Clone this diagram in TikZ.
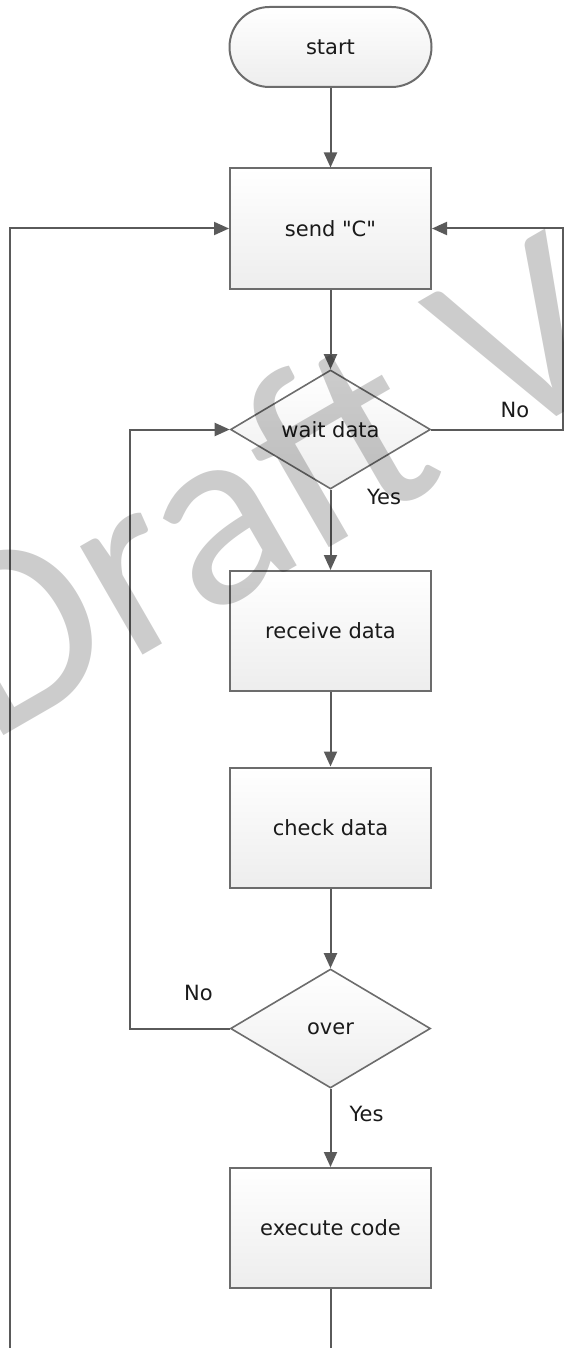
\documentclass[tikz,border=0pt]{standalone}
\usepackage{fontspec}
\newfontfamily\chartfont{DejaVu Sans}
\newfontfamily\markfont{Carlito}
\usepackage{xcolor}
\usepackage{tikz}
\usetikzlibrary{shapes.geometric,arrows.meta,positioning}
\definecolor{linegray}{RGB}{90,90,90}
\definecolor{bordergray}{RGB}{108,108,108}
\definecolor{textgray}{RGB}{26,26,26}

\begin{document}
\begin{tikzpicture}[x=1pt, y=-1pt,
    font=\chartfont\fontsize{21}{25}\selectfont,
    terminal/.style={rectangle, rounded corners=40pt, draw=bordergray, line width=2pt, top color=white, bottom color=black!7, text=textgray, minimum width=202pt, minimum height=80pt},
    process/.style={rectangle, draw=bordergray, line width=2pt, top color=white, bottom color=black!7, text=textgray, minimum width=201pt, minimum height=120pt},
    decision/.style={diamond, aspect=1.68, inner sep=0pt, draw=bordergray, line width=1.6pt, top color=white, bottom color=black!7, text=textgray, minimum width=200pt, minimum height=119pt},
    lbl/.style={text=textgray},
    arrow/.style={draw=linegray, line width=2pt, -{Triangle[length=15pt, width=13pt]}},
    wire/.style={draw=linegray, line width=2pt},
    watermark/.style={text=black, text opacity=0.2, inner sep=0pt, font=\markfont\fontsize{262}{262}\selectfont}
]
\useasboundingbox (0,0) rectangle (564,1348);

\node[terminal] (start) at (330.5,47) {start};
\node[process] (send) at (330.5,228.5) {send "C"};
\node[decision] (wait) at (330.5,429.5) {wait data};
\node[process] (receive) at (330.5,631) {receive data};
\node[process] (check) at (330.5,827.5) {check data};
\node[decision] (over) at (330.5,1028.5) {over};
\node[process] (exec) at (330.5,1228) {execute code};

% loop ends
\coordinate (leftfoot) at (10,1348);
\coordinate (loopleft) at (130,1028.5);
\coordinate (loopright) at (562.5,429.5);
\coordinate (execfoot) at (330.5,1348);

\draw[arrow] (start) -- (send);
\draw[arrow] (send) -- (wait);
\draw[arrow] (wait) -- (receive);
\draw[arrow] (receive) -- (check);
\draw[arrow] (check) -- (over);
\draw[arrow] (over) -- (exec);
\draw[wire] (exec) -- (execfoot);
\draw[arrow] (leftfoot) |- (send.west);
\draw[arrow] (over.west) -- (loopleft) |- (wait.west);
\draw[arrow] (wait.east) -- (loopright) |- (send.east);

\node[lbl] (waitno) at (515,410) {No};
\node[lbl] (waityes) at (384,497) {Yes};
\node[lbl] (overno) at (198.5,992.5) {No};
\node[lbl] (overyes) at (366.5,1114) {Yes};

% watermark
\begin{scope}
\clip (0,0) rectangle (564,1348);
\node[watermark, anchor=base west, rotate=30] (draft) at (-11.5,744.5) {Draft V};
\end{scope}

\end{tikzpicture}
\end{document}
